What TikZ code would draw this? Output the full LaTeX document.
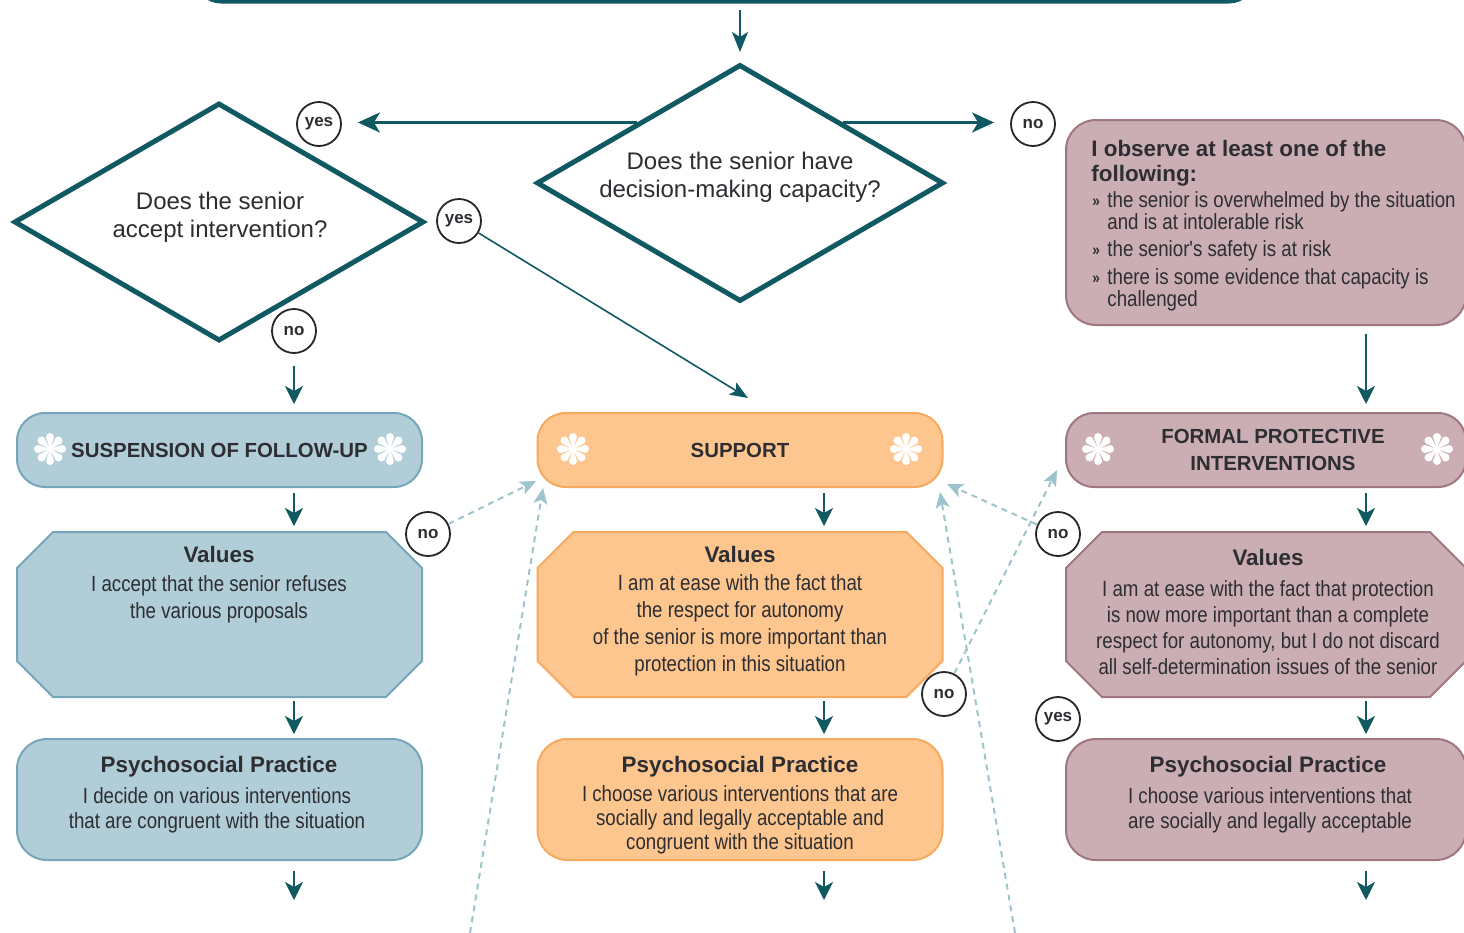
\documentclass[tikz,border=0pt]{standalone}
\usepackage{fontspec}
\setmainfont{Liberation Sans}
\newfontfamily\condf[FakeStretch=0.85]{Liberation Sans}
\usetikzlibrary{shapes.geometric,arrows.meta,calc}
\definecolor{tealD}{RGB}{16,88,98}
\definecolor{blueF}{RGB}{176,205,216}
\definecolor{blueD}{RGB}{118,166,185}
\definecolor{oraF}{RGB}{253,198,143}
\definecolor{oraD}{RGB}{246,170,96}
\definecolor{mauF}{RGB}{202,174,180}
\definecolor{mauD}{RGB}{160,118,128}
\definecolor{dashC}{RGB}{157,196,205}
\definecolor{txt}{RGB}{45,45,50}
\newcommand\obul{\makebox[7.5pt][l]{\raisebox{0.5pt}{\fontsize{8}{8}\selectfont\bfseries »}}}
\newcommand\octo[2]{\path[#2, line width=1pt]
  ([xshift=18pt]#1.north west) -- ([xshift=-18pt]#1.north east) --
  ([yshift=-18pt]#1.north east) -- ([yshift=18pt]#1.south east) --
  ([xshift=-18pt]#1.south east) -- ([xshift=18pt]#1.south west) --
  ([yshift=18pt]#1.south west) -- ([yshift=-18pt]#1.north west) -- cycle;}
\begin{document}
\begin{tikzpicture}[x=0.5pt,y=-0.5pt,
  every node/.style={text=txt},
  rbox/.style={rectangle, rounded corners=14pt, line width=1pt, inner sep=0pt, minimum width=202.5pt, minimum height=37pt, font=\bfseries\fontsize{10.2}{13.5}\selectfont, align=center},
  hbox/.style={rectangle, rounded corners=15pt, line width=1pt, inner sep=0pt, minimum width=202.5pt, minimum height=60.5pt},
  obox/.style={rectangle, inner sep=0pt, outer sep=0pt, minimum width=202.5pt, minimum height=82.5pt},
  blu/.style={draw=blueD, fill=blueF},
  ora/.style={draw=oraD, fill=oraF},
  mau/.style={draw=mauD, fill=mauF},
  dia/.style={diamond, draw=tealD, line width=2.5pt, inner sep=0pt, fill=white},
  yn/.style={circle, draw=black!85, line width=0.9pt, fill=white, minimum size=22pt, inner sep=0pt, font=\bfseries\fontsize{8.5}{9}\selectfont},
  ttl/.style={font=\bfseries\fontsize{11.2}{13}\selectfont, inner sep=0pt},
  bdy/.style={font=\condf\fontsize{11}{13.5}\selectfont, align=center, inner sep=0pt},
  bl/.style={font=\condf\fontsize{11}{13}\selectfont, inner sep=0pt, anchor=base west},
  qtx/.style={font=\fontsize{12}{14}\selectfont, align=center, inner sep=0pt},
  arr/.style={draw=tealD, line width=1.1pt, -{Stealth[length=9pt,width=9pt,inset=2.5pt]}},
  toparr/.style={draw=tealD, line width=1pt, -{Stealth[length=10pt,width=8pt,inset=2.5pt]}},
  harr/.style={draw=tealD, line width=1.4pt, -{Stealth[length=11pt,width=10pt,inset=3pt]}},
  tarr/.style={draw=tealD, line width=0.8pt, -{Stealth[length=9pt,width=7pt,inset=2pt]}},
  darr/.style={draw=dashC, line width=1pt, dash pattern=on 3pt off 2.5pt, -{Stealth[length=8pt,width=7pt,inset=2pt]}},
  ast/.pic={\fill[white]
      (0:3.5) -- (45:3.5) -- (90:3.5) -- (135:3.5) -- (180:3.5) -- (225:3.5) -- (270:3.5) -- (315:3.5) -- cycle
      \foreach \a in {0,45,...,315}{
        (0,0) -- ($(\a:12)+({\a-90}:4)$) arc[start angle={\a-90}, end angle={\a+90}, radius=4] -- cycle};}
]
\useasboundingbox (0,0) rectangle (1464,933);

% column axes and free ends
\coordinate (ax1) at (294,0);
\coordinate (ax2) at (824,0);
\coordinate (ax3) at (1366,0);
\coordinate (e1) at (294,900);
\coordinate (e2) at (824,900);
\coordinate (e3) at (1366,900);
\coordinate (t1) at (748,398);
\coordinate (ta) at (536,481);
\coordinate (tb) at (543,488);
\coordinate (tc) at (947,484);
\coordinate (td) at (940,492);
\coordinate (te) at (1057,470);
\coordinate (sb) at (470,933);
\coordinate (sd) at (1015,933);

% top box (cut off)
\node[draw=tealD, line width=2.5pt, rounded corners=12pt, minimum width=528pt, minimum height=40pt, inner sep=0pt] (top) at (725,-39) {};

% diamonds
\node[dia, minimum width=203.5pt, minimum height=118.5pt] (d1) at (740,183) {};
\node[qtx] (d1t) at (740,177) {Does the senior have\\decision-making capacity?};
\node[dia, minimum width=205pt, minimum height=119pt] (d2) at (219,222) {};
\node[qtx] (d2t) at (220,217.5) {Does the senior\\accept intervention?};

% observation box
\node[hbox, mau, rounded corners=15pt, minimum width=200pt, minimum height=102.5pt] (obs) at (1266,222.5) {};
\node[ttl, anchor=base west] (o1) at (1091,156) {I observe at least one of the};
\node[ttl, anchor=base west] (o2) at (1091,181) {following:};
\node[bl] (o3) at (1092,207) {\obul the senior is overwhelmed by the situation};
\node[bl] (o4) at (1107,229) {and is at intolerable risk};
\node[bl] (o5) at (1092,256) {\obul the senior's safety is at risk};
\node[bl] (o6) at (1092,284) {\obul there is some evidence that capacity is};
\node[bl] (o7) at (1107,306) {challenged};

% row 1 boxes
\node[rbox, blu] (susp) at (219.5,450) {SUSPENSION OF FOLLOW-UP};
\node[rbox, ora] (sup) at (740,450) {SUPPORT};
\node[rbox, mau, minimum width=200pt] (formal) at (1266,450) {\hspace*{7pt}FORMAL PROTECTIVE\\\hspace*{7pt}INTERVENTIONS};
\pic at (50,449) {ast};
\pic at (390,449) {ast};
\pic at (573,449) {ast};
\pic at (906,449) {ast};
\pic at (1098,449) {ast};
\pic at (1437,449) {ast};

% values octagons
\node[obox] (val1) at (219.5,614.5) {};
\node[obox] (val2) at (740,614.5) {};
\node[obox, minimum width=200pt] (val3) at (1266,614.5) {};
\octo{val1}{blu}
\octo{val2}{ora}
\octo{val3}{mau}
\node[ttl] (v1t) at (219,554) {Values};
\node[ttl] (v2t) at (740,554) {Values};
\node[ttl] (v3t) at (1268,557) {Values};
\node[bdy] (v1b) at (219,599.5) {I accept that the senior refuses\\the various proposals};
\node[bdy] (v2b) at (740,625.5) {I am at ease with the fact that\\the respect for autonomy\\of the senior is more important than\\protection in this situation};
\node[bdy, font=\condf\fontsize{11}{13}\selectfont] (v3b) at (1268,628) {I am at ease with the fact that protection\\is now more important than a complete\\respect for autonomy, but I do not discard\\all self-determination issues of the senior};

% psychosocial boxes
\node[hbox, blu] (psy1) at (219.5,799.5) {};
\node[hbox, ora] (psy2) at (740,799.5) {};
\node[hbox, mau, minimum width=200pt] (psy3) at (1266,799.5) {};
\node[ttl] (p1t) at (219,767) {Psychosocial Practice};
\node[ttl] (p2t) at (740,767) {Psychosocial Practice};
\node[ttl] (p3t) at (1268,767) {Psychosocial Practice};
\node[bdy, font=\condf\fontsize{11}{12.5}\selectfont] (p1b) at (217,810.5) {I decide on various interventions\\that are congruent with the situation};
\node[bdy, font=\condf\fontsize{11}{12}\selectfont] (p2b) at (740,820) {I choose various interventions that are\\socially and legally acceptable and\\congruent with the situation};
\node[bdy, font=\condf\fontsize{11}{12.5}\selectfont] (p3b) at (1270,810.5) {I choose various interventions that\\are socially and legally acceptable};

% yes / no circles
\node[yn] (yes1) at (319,124) {yes};
\node[yn] (no1) at (1033,124) {no};
\node[yn] (yes2) at (459,221) {yes};
\node[yn] (no2) at (294,331) {no};
\node[yn] (nol) at (428,534) {no};
\node[yn] (nom) at (944,694) {no};
\node[yn] (nor) at (1058,534) {no};
\node[yn] (yesr) at (1058,719) {yes};

% solid connectors
\draw[toparr, shorten <=3pt, shorten >=5pt] (top.south -| d1.north) -- (d1.north);
\draw[harr, shorten >=8pt] (d1.north west) -- (d1.north west -| yes1.east);
\draw[harr, shorten >=8pt] (d1.north east) -- (d1.north east -| no1.west);
\draw[tarr] (yes2) -- (t1);
\draw[arr, shorten <=6pt, shorten >=4pt] (no2) -- (no2 |- susp.north);
\draw[arr, shorten <=4pt, shorten >=4pt] (obs.south -| ax3) -- (formal.north -| ax3);

\draw[arr, shorten <=2.5pt, shorten >=3pt] (susp.south -| ax1) -- (val1.north -| ax1);
\draw[arr, shorten <=2.5pt, shorten >=3pt] (sup.south -| ax2) -- (val2.north -| ax2);
\draw[arr, shorten <=2.5pt, shorten >=3pt] (formal.south -| ax3) -- (val3.north -| ax3);
\draw[arr, shorten <=2pt, shorten >=2pt] (val1.south -| ax1) -- (psy1.north -| ax1);
\draw[arr, shorten <=2pt, shorten >=2pt] (val2.south -| ax2) -- (psy2.north -| ax2);
\draw[arr, shorten <=2pt, shorten >=2pt] (val3.south -| ax3) -- (psy3.north -| ax3);
\draw[arr, shorten <=5pt] (psy1.south -| ax1) -- (e1);
\draw[arr, shorten <=5pt] (psy2.south -| ax2) -- (e2);
\draw[arr, shorten <=5pt] (psy3.south -| ax3) -- (e3);

% dashed connectors
\draw[darr] (nol) -- (ta);
\draw[darr] (sb) -- (tb);
\draw[darr] (nor) -- (tc);
\draw[darr] (sd) -- (td);
\draw[darr] (nom) -- (te);
\end{tikzpicture}
\end{document}
